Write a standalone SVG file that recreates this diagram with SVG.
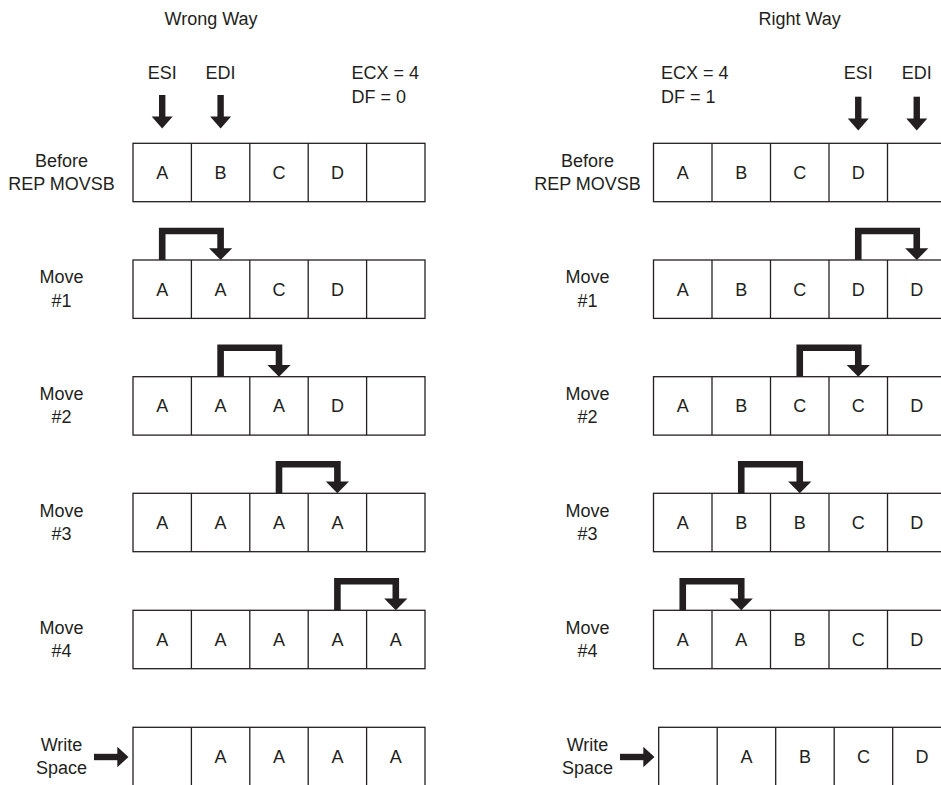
<svg xmlns="http://www.w3.org/2000/svg" width="941" height="785" viewBox="0 0 941 785">
<style>
text{font-family:"Liberation Sans",Arial,sans-serif;font-size:18px;fill:#231f20;}
.c{text-anchor:middle;}
.grid rect,.grid line{fill:none;stroke:#231f20;stroke-width:1.3;}
.bend{fill:none;stroke:#231f20;stroke-width:6.6;stroke-linejoin:miter;}
.shaft{stroke:#231f20;stroke-width:6.4;}
.head{fill:#231f20;}
</style>
<rect width="941" height="785" fill="#fff"/>

<!-- titles and register labels -->
<g id="left-header">
<text class="c" x="211" y="25">Wrong Way</text>
<text class="c" x="162.2" y="79">ESI</text>
<text class="c" x="220.6" y="79">EDI</text>
<text x="351.5" y="79">ECX = 4</text>
<text x="351.5" y="102.7">DF = 0</text>
</g>
<g id="right-header">
<text class="c" x="799.7" y="25">Right Way</text>
<text x="661" y="79">ECX = 4</text>
<text x="661" y="102.7">DF = 1</text>
<text class="c" x="858.25" y="79">ESI</text>
<text class="c" x="916.75" y="79">EDI</text>
</g>

<!-- row labels -->
<g id="left-labels">
<text class="c" x="61.5" y="166.7">Before</text><text class="c" x="61.5" y="190">REP MOVSB</text>
<text class="c" x="61.5" y="283.3">Move</text><text class="c" x="61.5" y="306.7">#1</text>
<text class="c" x="61.5" y="400">Move</text><text class="c" x="61.5" y="423.4">#2</text>
<text class="c" x="61.5" y="516.6">Move</text><text class="c" x="61.5" y="540">#3</text>
<text class="c" x="61.5" y="633.6">Move</text><text class="c" x="61.5" y="657">#4</text>
<text class="c" x="61.5" y="750.6">Write</text><text class="c" x="61.5" y="774">Space</text>
</g>
<g id="right-labels">
<text class="c" x="587.5" y="166.7">Before</text><text class="c" x="587.5" y="190">REP MOVSB</text>
<text class="c" x="587.5" y="283.3">Move</text><text class="c" x="587.5" y="306.7">#1</text>
<text class="c" x="587.5" y="400">Move</text><text class="c" x="587.5" y="423.4">#2</text>
<text class="c" x="587.5" y="516.6">Move</text><text class="c" x="587.5" y="540">#3</text>
<text class="c" x="587.5" y="633.6">Move</text><text class="c" x="587.5" y="657">#4</text>
<text class="c" x="587.5" y="750.6">Write</text><text class="c" x="587.5" y="774">Space</text>
</g>

<!-- left grids -->
<g id="left-before" class="grid">
<rect x="133" y="143.3" width="292" height="58.4"/>
<line x1="191.4" y1="143.3" x2="191.4" y2="201.7"/><line x1="249.8" y1="143.3" x2="249.8" y2="201.7"/><line x1="308.2" y1="143.3" x2="308.2" y2="201.7"/><line x1="366.6" y1="143.3" x2="366.6" y2="201.7"/>
<text class="c" x="162.2" y="179">A</text><text class="c" x="220.6" y="179">B</text><text class="c" x="279" y="179">C</text><text class="c" x="337.4" y="179">D</text>
</g>
<g id="left-move1" class="grid">
<rect x="133" y="260" width="292" height="58.4"/>
<line x1="191.4" y1="260" x2="191.4" y2="318.4"/><line x1="249.8" y1="260" x2="249.8" y2="318.4"/><line x1="308.2" y1="260" x2="308.2" y2="318.4"/><line x1="366.6" y1="260" x2="366.6" y2="318.4"/>
<text class="c" x="162.2" y="295.7">A</text><text class="c" x="220.6" y="295.7">A</text><text class="c" x="279" y="295.7">C</text><text class="c" x="337.4" y="295.7">D</text>
</g>
<g id="left-move2" class="grid">
<rect x="133" y="376.7" width="292" height="58.4"/>
<line x1="191.4" y1="376.7" x2="191.4" y2="435.1"/><line x1="249.8" y1="376.7" x2="249.8" y2="435.1"/><line x1="308.2" y1="376.7" x2="308.2" y2="435.1"/><line x1="366.6" y1="376.7" x2="366.6" y2="435.1"/>
<text class="c" x="162.2" y="412.4">A</text><text class="c" x="220.6" y="412.4">A</text><text class="c" x="279" y="412.4">A</text><text class="c" x="337.4" y="412.4">D</text>
</g>
<g id="left-move3" class="grid">
<rect x="133" y="493.3" width="292" height="58.4"/>
<line x1="191.4" y1="493.3" x2="191.4" y2="551.7"/><line x1="249.8" y1="493.3" x2="249.8" y2="551.7"/><line x1="308.2" y1="493.3" x2="308.2" y2="551.7"/><line x1="366.6" y1="493.3" x2="366.6" y2="551.7"/>
<text class="c" x="162.2" y="529">A</text><text class="c" x="220.6" y="529">A</text><text class="c" x="279" y="529">A</text><text class="c" x="337.4" y="529">A</text>
</g>
<g id="left-move4" class="grid">
<rect x="133" y="610.3" width="292" height="58.4"/>
<line x1="191.4" y1="610.3" x2="191.4" y2="668.7"/><line x1="249.8" y1="610.3" x2="249.8" y2="668.7"/><line x1="308.2" y1="610.3" x2="308.2" y2="668.7"/><line x1="366.6" y1="610.3" x2="366.6" y2="668.7"/>
<text class="c" x="162.2" y="646">A</text><text class="c" x="220.6" y="646">A</text><text class="c" x="279" y="646">A</text><text class="c" x="337.4" y="646">A</text><text class="c" x="395.8" y="646">A</text>
</g>
<g id="left-write" class="grid">
<rect x="133" y="727.3" width="292" height="58.4"/>
<line x1="191.4" y1="727.3" x2="191.4" y2="785.7"/><line x1="249.8" y1="727.3" x2="249.8" y2="785.7"/><line x1="308.2" y1="727.3" x2="308.2" y2="785.7"/><line x1="366.6" y1="727.3" x2="366.6" y2="785.7"/>
<text class="c" x="220.6" y="763">A</text><text class="c" x="279" y="763">A</text><text class="c" x="337.4" y="763">A</text><text class="c" x="395.8" y="763">A</text>
</g>

<!-- right grids -->
<g id="right-before" class="grid">
<rect x="653.5" y="143.3" width="292.5" height="58.4"/>
<line x1="712" y1="143.3" x2="712" y2="201.7"/><line x1="770.5" y1="143.3" x2="770.5" y2="201.7"/><line x1="829" y1="143.3" x2="829" y2="201.7"/><line x1="887.5" y1="143.3" x2="887.5" y2="201.7"/>
<text class="c" x="682.75" y="179">A</text><text class="c" x="741.25" y="179">B</text><text class="c" x="799.75" y="179">C</text><text class="c" x="858.25" y="179">D</text>
</g>
<g id="right-move1" class="grid">
<rect x="653.5" y="260" width="292.5" height="58.4"/>
<line x1="712" y1="260" x2="712" y2="318.4"/><line x1="770.5" y1="260" x2="770.5" y2="318.4"/><line x1="829" y1="260" x2="829" y2="318.4"/><line x1="887.5" y1="260" x2="887.5" y2="318.4"/>
<text class="c" x="682.75" y="295.7">A</text><text class="c" x="741.25" y="295.7">B</text><text class="c" x="799.75" y="295.7">C</text><text class="c" x="858.25" y="295.7">D</text><text class="c" x="916.75" y="295.7">D</text>
</g>
<g id="right-move2" class="grid">
<rect x="653.5" y="376.7" width="292.5" height="58.4"/>
<line x1="712" y1="376.7" x2="712" y2="435.1"/><line x1="770.5" y1="376.7" x2="770.5" y2="435.1"/><line x1="829" y1="376.7" x2="829" y2="435.1"/><line x1="887.5" y1="376.7" x2="887.5" y2="435.1"/>
<text class="c" x="682.75" y="412.4">A</text><text class="c" x="741.25" y="412.4">B</text><text class="c" x="799.75" y="412.4">C</text><text class="c" x="858.25" y="412.4">C</text><text class="c" x="916.75" y="412.4">D</text>
</g>
<g id="right-move3" class="grid">
<rect x="653.5" y="493.3" width="292.5" height="58.4"/>
<line x1="712" y1="493.3" x2="712" y2="551.7"/><line x1="770.5" y1="493.3" x2="770.5" y2="551.7"/><line x1="829" y1="493.3" x2="829" y2="551.7"/><line x1="887.5" y1="493.3" x2="887.5" y2="551.7"/>
<text class="c" x="682.75" y="529">A</text><text class="c" x="741.25" y="529">B</text><text class="c" x="799.75" y="529">B</text><text class="c" x="858.25" y="529">C</text><text class="c" x="916.75" y="529">D</text>
</g>
<g id="right-move4" class="grid">
<rect x="653.5" y="610.3" width="292.5" height="58.4"/>
<line x1="712" y1="610.3" x2="712" y2="668.7"/><line x1="770.5" y1="610.3" x2="770.5" y2="668.7"/><line x1="829" y1="610.3" x2="829" y2="668.7"/><line x1="887.5" y1="610.3" x2="887.5" y2="668.7"/>
<text class="c" x="682.75" y="646">A</text><text class="c" x="741.25" y="646">A</text><text class="c" x="799.75" y="646">B</text><text class="c" x="858.25" y="646">C</text><text class="c" x="916.75" y="646">D</text>
</g>
<g id="right-write" class="grid">
<rect x="658.7" y="727.3" width="292.5" height="58.4"/>
<line x1="717.2" y1="727.3" x2="717.2" y2="785.7"/><line x1="775.7" y1="727.3" x2="775.7" y2="785.7"/><line x1="834.2" y1="727.3" x2="834.2" y2="785.7"/><line x1="892.7" y1="727.3" x2="892.7" y2="785.7"/>
<text class="c" x="746.45" y="763">A</text><text class="c" x="804.95" y="763">B</text><text class="c" x="863.45" y="763">C</text><text class="c" x="921.95" y="763">D</text>
</g>

<!-- connectors -->
<g id="connectors">
<!-- pointer arrows -->
<line class="shaft" x1="162.2" y1="95" x2="162.2" y2="117"/><polygon class="head" points="151.7,116.5 172.7,116.5 162.2,128.4"/>
<line class="shaft" x1="220.6" y1="95" x2="220.6" y2="117"/><polygon class="head" points="210.1,116.5 231.1,116.5 220.6,128.4"/>
<line class="shaft" x1="858.25" y1="96.7" x2="858.25" y2="119"/><polygon class="head" points="847.75,118.5 868.75,118.5 858.25,130.6"/>
<line class="shaft" x1="916.75" y1="96.7" x2="916.75" y2="119"/><polygon class="head" points="906.25,118.5 927.25,118.5 916.75,130.6"/>
<!-- left moves -->
<path class="bend" d="M162.2 260V231H220.6V249"/><polygon class="head" points="209,248.3 232.2,248.3 220.6,260"/>
<path class="bend" d="M220.6 376.7V347.7H279V365.7"/><polygon class="head" points="267.4,365 290.6,365 279,376.7"/>
<path class="bend" d="M279 493.3V464.3H337.4V482.3"/><polygon class="head" points="325.8,481.6 349,481.6 337.4,493.3"/>
<path class="bend" d="M337.4 610.3V581.3H395.8V599.3"/><polygon class="head" points="384.2,598.6 407.4,598.6 395.8,610.3"/>
<!-- right moves -->
<path class="bend" d="M858.25 260V231H916.75V249"/><polygon class="head" points="905.15,248.3 928.35,248.3 916.75,260"/>
<path class="bend" d="M799.75 376.7V347.7H858.25V365.7"/><polygon class="head" points="846.65,365 869.85,365 858.25,376.7"/>
<path class="bend" d="M741.25 493.3V464.3H799.75V482.3"/><polygon class="head" points="788.15,481.6 811.35,481.6 799.75,493.3"/>
<path class="bend" d="M682.75 610.3V581.3H741.25V599.3"/><polygon class="head" points="729.65,598.6 752.85,598.6 741.25,610.3"/>
<!-- write arrows -->
<line class="shaft" x1="94" y1="757" x2="118" y2="757"/><polygon class="head" points="117.3,746.8 117.3,767.2 128.5,757"/>
<line class="shaft" x1="620" y1="757" x2="644" y2="757"/><polygon class="head" points="643.3,746.8 643.3,767.2 654.5,757"/>
</g>
</svg>
